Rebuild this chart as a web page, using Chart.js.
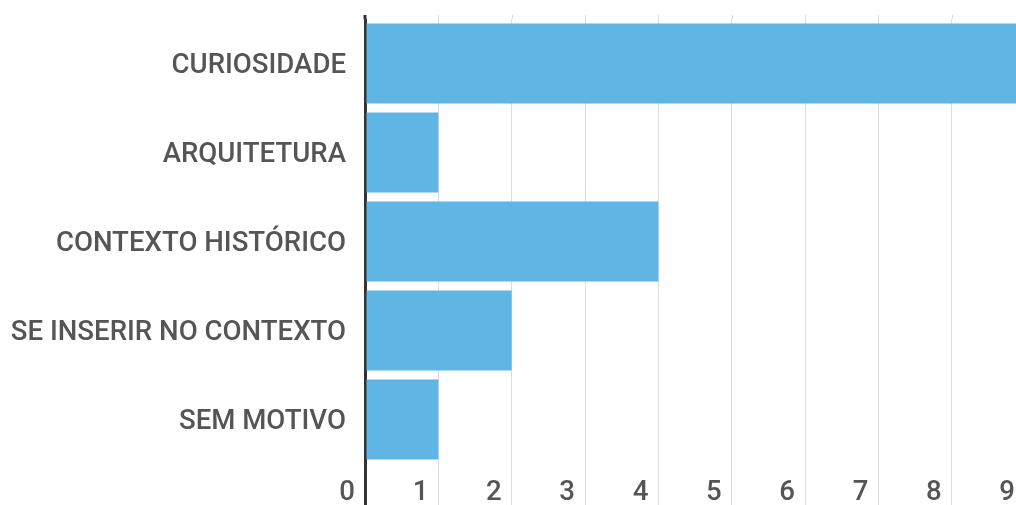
<!DOCTYPE html>
<html>
<head>
<meta charset="utf-8">
<script src="https://cdn.jsdelivr.net/npm/chart.js@4/dist/chart.umd.min.js"></script>
<style>
  html, body { margin: 0; padding: 0; background: #fff; overflow: hidden; }
  #wrap { width: 1016px; height: 505px; overflow: hidden; }
</style>
</head>
<body>
<div id="wrap"><canvas id="c" width="1040" height="505"></canvas></div>
<script>
const categories = ['CURIOSIDADE', 'ARQUITETURA', 'CONTEXTO HISTÓRICO', 'SE INSERIR NO CONTEXTO', 'SEM MOTIVO'];
const values = [9, 1, 4, 2, 1];
const xMin = 0;
const xMax = 9;

// extends the vertical grid lines a few pixels above the plot area
const gridTopExtend = {
  id: 'gridTopExtend',
  beforeDatasetsDraw(chart) {
    const x = chart.scales.x;
    const ctx = chart.ctx;
    const top = chart.chartArea.top;
    ctx.save();
    x.ticks.forEach((t) => {
      const px = Math.round(x.getPixelForValue(t.value)) + 0.5;
      if (t.value === 0) return;
      ctx.strokeStyle = '#dcdcdc';
      ctx.lineWidth = 1;
      ctx.beginPath();
      ctx.moveTo(px, top - 4);
      ctx.lineTo(px, top);
      ctx.stroke();
    });
    const p0 = x.getPixelForValue(0);
    ctx.strokeStyle = '#333';
    ctx.lineWidth = 3;
    ctx.beginPath();
    ctx.moveTo(p0, top - 4);
    ctx.lineTo(p0, top);
    ctx.stroke();
    ctx.restore();
  }
};

new Chart(document.getElementById('c'), {
  type: 'bar',
  data: {
    labels: categories,
    datasets: [{
      data: values,
      backgroundColor: '#5fb6e4',
      borderWidth: 0,
      barPercentage: 0.9,
      categoryPercentage: 1.0
    }]
  },
  options: {
    indexAxis: 'y',
    responsive: false,
    animation: false,
    devicePixelRatio: 1,
    layout: { padding: { top: 19, right: 15, left: 0, bottom: 0 } },
    plugins: { legend: { display: false }, tooltip: { enabled: false } },
    scales: {
      x: {
        min: xMin,
        max: xMax,
        ticks: {
          stepSize: 1,
          align: 'end',
          labelOffset: -10,
          padding: -28,
          color: '#555',
          font: { family: 'Roboto', size: 27.6, weight: '500' }
        },
        grid: {
          drawTicks: true,
          tickLength: 41,
          color: (ctx) => (ctx.tick && ctx.tick.value === 0 ? '#333' : '#dcdcdc'),
          lineWidth: (ctx) => (ctx.tick && ctx.tick.value === 0 ? 3 : 1)
        },
        border: { display: false },
        afterFit: (s) => { s.height = 41; s.paddingLeft = 0; s.paddingRight = 0; }
      },
      y: {
        ticks: {
          padding: 19,
          labelOffset: 3,
          color: '#555',
          font: { family: 'Roboto', size: 27.6, weight: '500' }
        },
        grid: { display: false, drawTicks: false },
        border: { display: false },
        afterFit: (s) => { s.width = 365; s.paddingTop = 0; s.paddingBottom = 0; }
      }
    }
  },
  plugins: [gridTopExtend]
});
</script>
</body>
</html>
